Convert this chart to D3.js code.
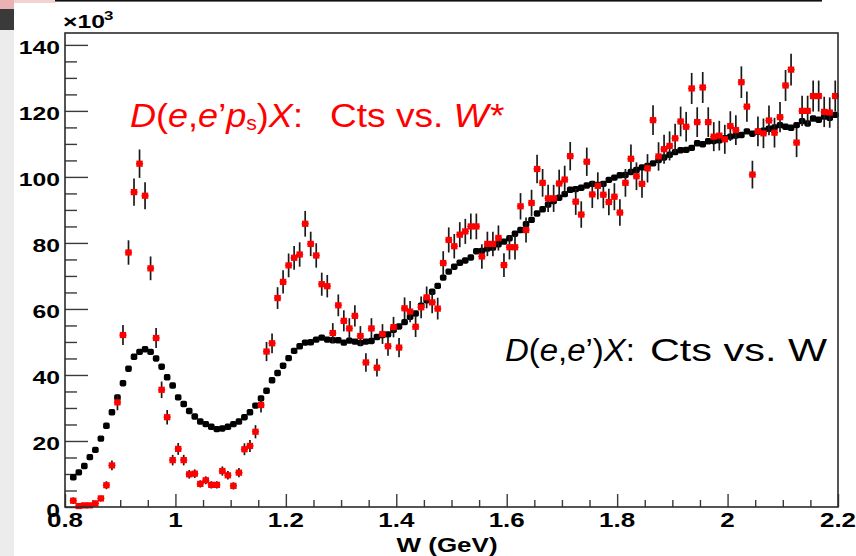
<!DOCTYPE html>
<html>
<head>
<meta charset="utf-8">
<script src="https://cdn.jsdelivr.net/npm/d3@7"></script>
<style>
    html, body { margin: 0; padding: 0; background: #fff; }
    svg { display: block; font-family: "Liberation Sans", Arial, sans-serif; }
</style>
</head>
<body>
<div id="chart"></div>
<script>
// W binning (GeV): first bin starts at 0.81, 0.01 wide
const binStart = 0.81;
const binWidth = 0.01;

// D(e,e')X counts per bin, x10^3 (black)
const inclusiveCounts = [
    9.0, 10.5, 12.4, 15.1, 17.3, 20.7, 24.6, 28.7, 33.2, 37.5,
    41.9, 45.5, 47.0, 47.8, 47.0, 45.0, 42.5, 39.3, 36.8, 33.2,
    31.2, 29.1, 27.4, 25.9, 25.1, 24.3, 23.6, 23.8, 24.3, 25.1,
    25.9, 27.2, 28.7, 30.7, 32.9, 35.2, 38.4, 40.6, 42.8, 45.1,
    47.3, 48.7, 49.8, 49.9, 50.7, 51.3, 50.7, 50.5, 50.5, 49.8,
    50.4, 50.1, 49.7, 50.1, 50.3, 51.5, 52.1, 52.3, 53.7, 54.7,
    56.0, 57.6, 58.6, 61.0, 62.6, 65.2, 67.0, 69.5, 71.3, 72.8,
    74.0, 74.7, 75.6, 77.5, 77.6, 78.3, 78.6, 79.6, 80.4, 81.4,
    82.8, 83.9, 85.7, 87.0, 88.9, 90.2, 91.6, 92.7, 93.7, 94.8,
    96.1, 96.3, 96.7, 97.4, 97.9, 97.6, 97.9, 99.1, 99.8, 100.5,
    100.6, 101.5, 102.1, 102.9, 103.3, 104.1, 105.1, 105.9, 106.7, 107.5,
    108.1, 108.2, 108.8, 110.2, 109.9, 110.8, 110.9, 111.1, 111.7, 112.2,
    112.5, 112.7, 113.8, 113.1, 113.7, 114.0, 114.6, 115.0, 115.7, 115.2,
    114.9, 115.7, 116.9, 116.2, 117.7, 117.3, 118.3, 117.9, 118.8
];

// D(e,e'ps)X counts per bin vs W*, x10^3 (red)
const taggedCounts = [
    1.9, 0.3, 0.5, 0.5, 1.1, 2.6, 6.6, 12.6, 31.7, 52.1,
    77.1, 95.4, 104.0, 94.3, 72.3, 51.2, 35.5, 27.2, 14.2, 17.6,
    14.2, 9.9, 10.1, 7.0, 8.1, 6.7, 6.7, 10.9, 9.6, 6.4,
    10.4, 17.5, 18.5, 22.8, 30.9, 47.1, 49.6, 63.3, 68.2, 73.2,
    75.5, 76.5, 85.8, 79.7, 76.2, 67.5, 66.9, 52.7, 61.1, 56.4,
    54.1, 57.9, 51.8, 43.8, 54.1, 42.2, 52.4, 48.7, 54.5, 48.3,
    60.2, 59.2, 54.6, 60.5, 63.5, 62.0, 60.1, 73.9, 80.9, 79.0,
    82.5, 83.5, 85.0, 85.0, 75.9, 79.7, 79.7, 81.5, 73.3, 78.7,
    78.7, 91.1, 83.9, 92.1, 102.4, 98.2, 93.5, 93.5, 98.0, 99.2,
    106.3, 92.5, 88.6, 104.6, 94.7, 97.3, 94.6, 92.4, 94.0, 89.2,
    98.2, 105.5, 100.2, 97.9, 102.6, 117.2, 106.2, 108.4, 109.4, 111.7,
    116.8, 115.2, 126.8, 116.6, 127.1, 116.6, 112.2, 112.5, 111.4, 115.4,
    114.2, 128.7, 121.3, 100.7, 113.8, 113.2, 117.1, 113.4, 118.1, 127.7,
    132.5, 110.4, 120.0, 120.0, 124.5, 124.5, 119.7, 119.5, 124.5
];

// vertical error on the red points, x10^3
const taggedErrors = [
    1.0, 0.6, 0.6, 0.6, 0.8, 0.9, 1.2, 1.5, 2.4, 3.0,
    3.7, 4.1, 4.3, 4.1, 3.6, 3.0, 2.5, 2.2, 1.6, 1.8,
    1.6, 1.3, 1.3, 1.1, 1.2, 1.1, 1.1, 1.4, 1.3, 1.1,
    1.4, 1.8, 1.8, 2.0, 2.3, 2.9, 3.0, 3.3, 3.5, 3.6,
    3.6, 3.7, 3.9, 3.7, 3.7, 3.5, 3.4, 3.0, 3.3, 3.2,
    3.1, 3.2, 3.0, 2.8, 3.1, 2.7, 3.0, 2.9, 3.1, 2.9,
    3.3, 3.2, 3.1, 3.3, 3.3, 3.3, 3.3, 3.6, 3.8, 3.7,
    3.8, 3.8, 3.9, 3.9, 3.7, 3.7, 3.7, 3.8, 3.6, 3.7,
    3.7, 4.0, 3.8, 4.0, 4.3, 4.2, 4.1, 4.1, 4.2, 4.2,
    4.3, 4.0, 4.0, 4.3, 4.1, 4.1, 4.1, 4.0, 4.1, 4.0,
    4.2, 4.3, 4.2, 4.2, 4.3, 4.5, 4.3, 4.4, 4.4, 4.4,
    4.5, 4.5, 4.7, 4.5, 4.7, 4.5, 4.4, 4.5, 4.4, 4.5,
    4.5, 4.8, 4.6, 4.2, 4.5, 4.5, 4.5, 4.5, 4.6, 4.7,
    4.8, 4.4, 4.6, 4.6, 4.7, 4.7, 4.6, 4.6, 4.7
];

const xMajorTicks = [0.8, 1.0, 1.2, 1.4, 1.6, 1.8, 2.0, 2.2];
const yMajorTicks = [0, 20, 40, 60, 80, 100, 120, 140];
const xDomain = [0.8, 2.2];
const yDomain = [0, 143.6];

// the source picture is squeezed out sideways, so text is widened to match
const STRETCH = 1.3;

class Colors {
    constructor() {
        this.frame = "#2b2b2b";
        this.ticks = "#3a3a3a";
        this.inclusive = "#000";
        this.tagged = "#ff0000";
        this.errorBar = "#1a1a1a";
        this.text = "#000";
    }
}

class Chart {
    constructor(container) {
        this.container = container;
        this.width = 856;
        this.height = 556;
        this.frame = { left: 65, right: 838, top: 33, bottom: 507 };
        this.colors = new Colors();
        this.x = d3.scaleLinear().domain(xDomain).range([this.frame.left, this.frame.right]);
        this.y = d3.scaleLinear().domain(yDomain).range([this.frame.bottom, this.frame.top]);
        this.bins = inclusiveCounts.map((_, i) => binStart + binWidth * (i + 0.5));
    }

    render() {
        this._renderSvg();
        this._renderBackdrop();
        this._renderAxes();
        this._renderInclusive();
        this._renderTagged();
        this._renderFrame();
        this._renderLabels();
    }

    _renderSvg() {
        this.svg = d3.select(this.container).append("svg")
            .attr("viewBox", [0, 0, this.width, this.height])
            .attr("width", this.width)
            .attr("height", this.height);
        this.svg.append("rect").attr("width", this.width).attr("height", this.height).attr("fill", "#fff");
    }

    // slide/screen remnants around the plot
    _renderBackdrop() {
        this.svg.append("rect").attr("x", 0).attr("y", 0).attr("width", 14).attr("height", this.height).attr("fill", "#ececec");
        this.svg.append("rect").attr("x", 0).attr("y", 9).attr("width", 14).attr("height", 21).attr("fill", "#3a3a3a");
        this.svg.append("rect").attr("x", 0).attr("y", 0).attr("width", 14).attr("height", 9).attr("fill", "#eab2b2");
        this.svg.append("rect").attr("x", 14).attr("y", 0).attr("width", 41).attr("height", 3).attr("fill", "#f3d2d2");
        this.svg.append("rect").attr("x", 55).attr("y", 0).attr("width", 767).attr("height", 1.6).attr("fill", "#111");
    }

    _renderAxes() {
        const f = this.frame;
        const xMinor = d3.range(0.8, 2.2001, 0.05).filter(v => !xMajorTicks.some(t => Math.abs(t - v) < 1e-6));
        const yMinor = d3.range(0, 141, 5).filter(v => v % 20 !== 0);

        const axes = [
            [d3.axisBottom(this.x).tickValues(xMajorTicks).tickSize(-13), `translate(0,${f.bottom})`],
            [d3.axisBottom(this.x).tickValues(xMinor).tickSize(-7), `translate(0,${f.bottom})`],
            [d3.axisLeft(this.y).tickValues(yMajorTicks).tickSize(-23), `translate(${f.left},0)`],
            [d3.axisLeft(this.y).tickValues(yMinor).tickSize(-12), `translate(${f.left},0)`]
        ];
        axes.forEach(([axis, tr]) => {
            const g = this.svg.append("g")
                .attr("transform", tr)
                .call(axis.tickSizeOuter(0).tickFormat(""));
            g.select(".domain").remove();
            g.selectAll(".tick line").attr("stroke", this.colors.ticks).attr("stroke-width", 1.4);
        });

        const fmt = d3.format("~g");
        this.svg.append("g").selectAll("text")
            .data(yMajorTicks)
            .join("text")
            .attr("transform", d => `translate(${f.left - 5},${this.y(d) + 9.5}) scale(${STRETCH},1)`)
            .attr("text-anchor", "end")
            .attr("font-size", 19)
            .attr("font-weight", "bold")
            .attr("fill", this.colors.text)
            .text(fmt);

        this.svg.append("g").selectAll("text")
            .data(xMajorTicks)
            .join("text")
            .attr("transform", d => `translate(${this.x(d)},${f.bottom + 20}) scale(${STRETCH},1)`)
            .attr("text-anchor", "middle")
            .attr("font-size", 20)
            .attr("font-weight", "bold")
            .attr("fill", this.colors.text)
            .text(fmt);
    }

    _renderInclusive() {
        const half = binWidth / 2;
        const g = this.svg.append("g");
        const pts = this.bins.map((w, i) => ({ w, v: inclusiveCounts[i] }));
        g.selectAll("line")
            .data(pts)
            .join("line")
            .attr("x1", d => this.x(d.w - half))
            .attr("x2", d => this.x(d.w + half))
            .attr("y1", d => this.y(d.v))
            .attr("y2", d => this.y(d.v))
            .attr("stroke", this.colors.inclusive)
            .attr("stroke-width", 2);
        g.selectAll("rect")
            .data(pts)
            .join("rect")
            .attr("x", d => this.x(d.w) - 3.3)
            .attr("y", d => this.y(d.v) - 3.2)
            .attr("width", 6.6)
            .attr("height", 6.4)
            .attr("rx", 1.8)
            .attr("fill", this.colors.inclusive);
    }

    _renderTagged() {
        const half = binWidth / 2;
        const g = this.svg.append("g");
        const pts = this.bins.map((w, i) => ({ w, v: taggedCounts[i], e: taggedErrors[i] }));
        g.selectAll("line.err")
            .data(pts)
            .join("line")
            .attr("class", "err")
            .attr("x1", d => this.x(d.w))
            .attr("x2", d => this.x(d.w))
            .attr("y1", d => this.y(d.v - d.e))
            .attr("y2", d => this.y(d.v + d.e))
            .attr("stroke", this.colors.errorBar)
            .attr("stroke-width", 1.7);
        g.selectAll("line.bin")
            .data(pts)
            .join("line")
            .attr("class", "bin")
            .attr("x1", d => this.x(d.w - half) - 0.8)
            .attr("x2", d => this.x(d.w + half) + 0.8)
            .attr("y1", d => this.y(d.v))
            .attr("y2", d => this.y(d.v))
            .attr("stroke", this.colors.tagged)
            .attr("stroke-width", 1.3);
        g.selectAll("rect")
            .data(pts)
            .join("rect")
            .attr("x", d => this.x(d.w) - 3.2)
            .attr("y", d => this.y(d.v) - 3.1)
            .attr("width", 6.4)
            .attr("height", 6.2)
            .attr("fill", this.colors.tagged);
    }

    _renderFrame() {
        const f = this.frame;
        this.svg.append("rect")
            .attr("x", f.left)
            .attr("y", f.top)
            .attr("width", f.right - f.left)
            .attr("height", f.bottom - f.top)
            .attr("fill", "none")
            .attr("stroke", this.colors.frame)
            .attr("stroke-width", 1.6);
    }

    // builds a run of tspans, then widens it to span [x0, x1]
    _fitRun(x0, x1, baseline, size, color, parts) {
        const t = this.svg.append("text").attr("font-size", size).attr("fill", color);
        let shift = 0;
        parts.forEach(p => {
            const dy = (p.dy || 0) - shift;
            shift = p.dy || 0;
            t.append("tspan")
                .attr("font-style", p.it ? "italic" : "normal")
                .attr("font-size", p.size || null)
                .attr("dy", dy || null)
                .text(p.s);
        });
        const bb = t.node().getBBox();
        const sx = (x1 - x0) / bb.width;
        t.attr("transform", `translate(${x0 - bb.x * sx},${baseline}) scale(${sx},1)`);
        return t;
    }

    _renderLabels() {
        const red = this.colors.tagged, black = this.colors.text;

        this._fitRun(130, 303, 127, 34, red, [
            { s: "D", it: true }, { s: "(" }, { s: "e", it: true }, { s: "," },
            { s: "e", it: true }, { s: "\u2019" }, { s: "p", it: true },
            { s: "s", size: 20, dy: 3 }, { s: ")" }, { s: "X", it: true }, { s: ":" }
        ]);
        this._fitRun(330, 505, 127, 34, red, [{ s: "Cts vs. " }, { s: "W*", it: true }]);

        this._fitRun(505, 635, 361, 31, black, [
            { s: "D", it: true }, { s: "(" }, { s: "e", it: true }, { s: "," },
            { s: "e", it: true }, { s: "\u2019" }, { s: ")" }, { s: "X", it: true }, { s: ":" }
        ]);
        this._fitRun(650, 828, 361, 31, black, [{ s: "Cts vs. W" }]);

        // axis multiplier
        this.svg.append("text")
            .attr("transform", `translate(63,28) scale(${STRETCH},1)`)
            .attr("font-size", 19)
            .attr("font-weight", "bold")
            .attr("fill", black)
            .text("\u00d710");
        this.svg.append("text")
            .attr("transform", `translate(104,20) scale(${STRETCH},1)`)
            .attr("font-size", 13)
            .attr("font-weight", "bold")
            .attr("fill", black)
            .text("3");

        this.svg.append("text")
            .attr("transform", `translate(447,552) scale(${STRETCH},1)`)
            .attr("text-anchor", "middle")
            .attr("font-size", 20)
            .attr("font-weight", "bold")
            .attr("fill", black)
            .text("W (GeV)");
    }
}

new Chart(document.getElementById("chart")).render();
</script>
</body>
</html>
